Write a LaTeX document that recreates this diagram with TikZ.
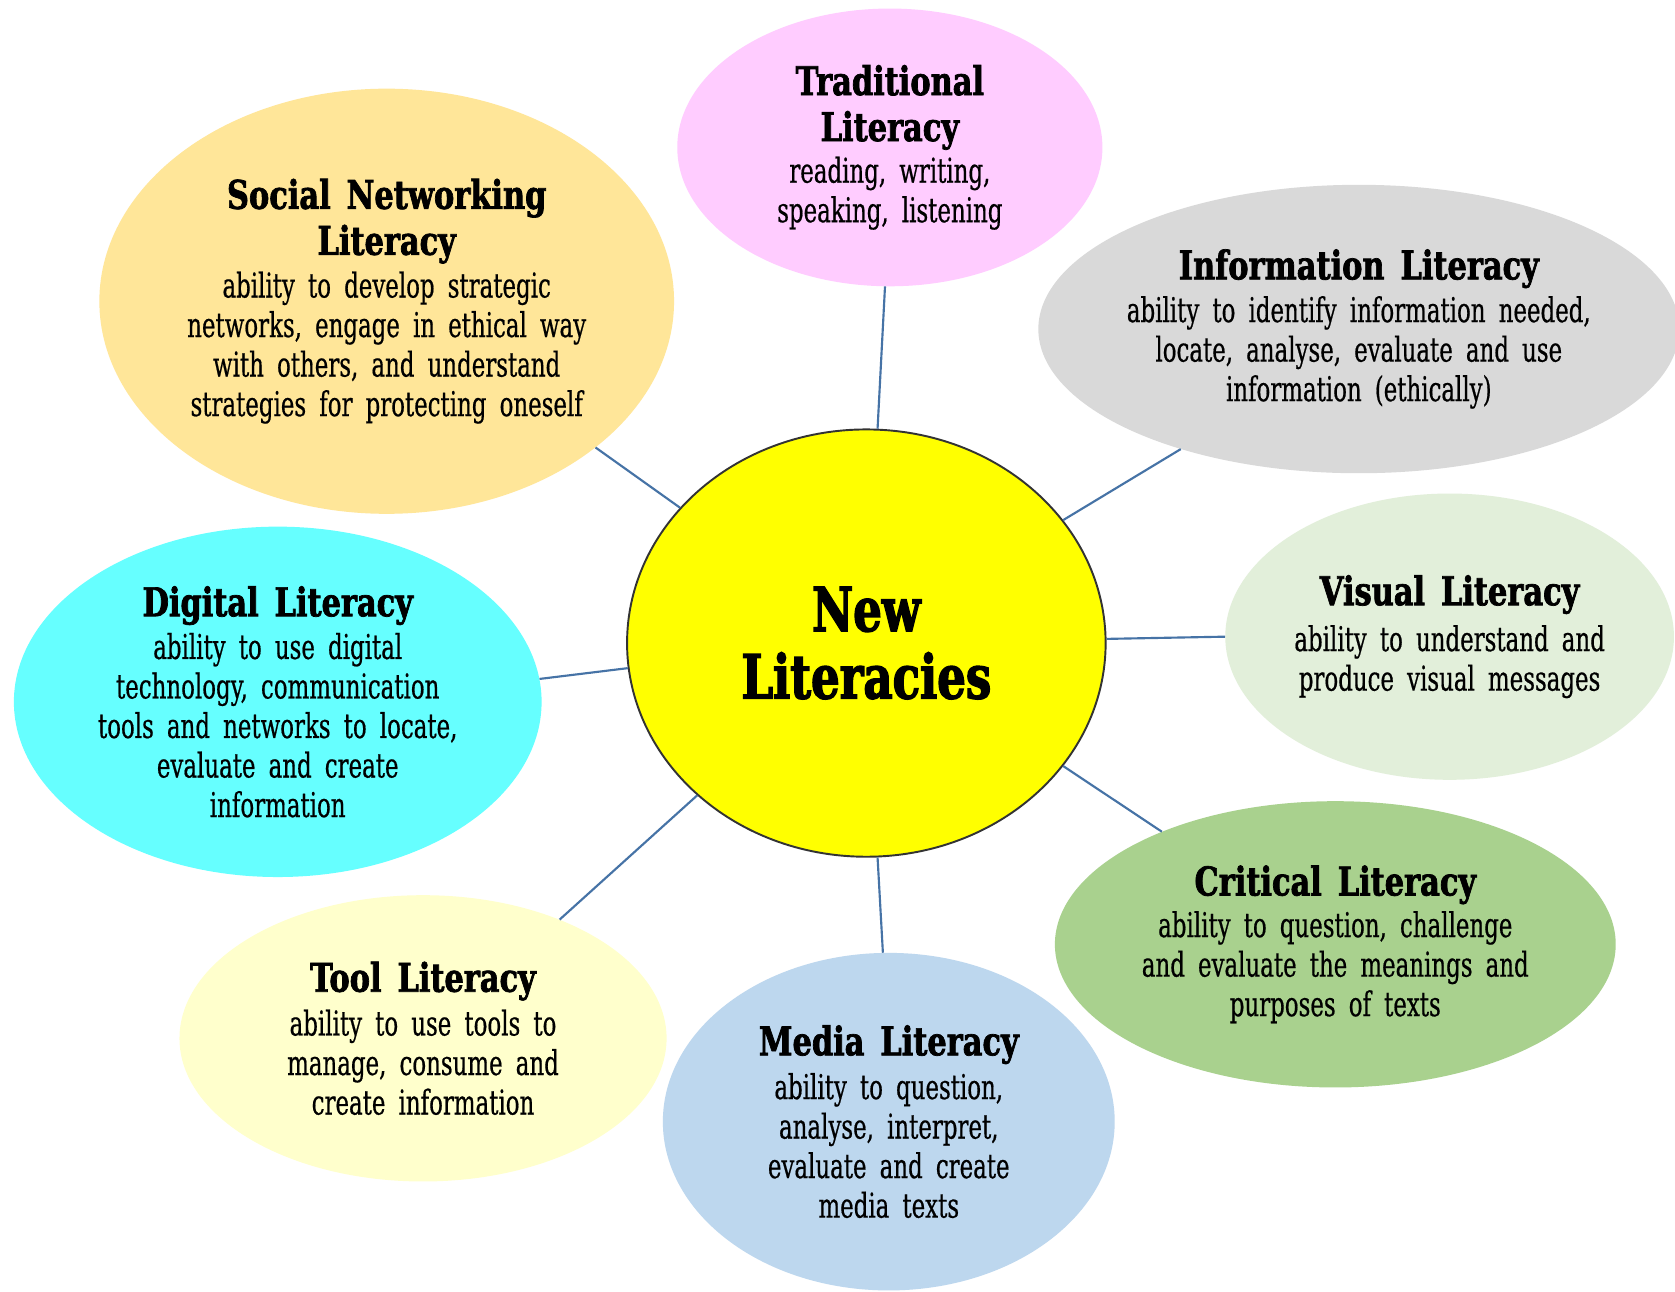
\documentclass[tikz,border=0pt]{standalone}
\usepackage{fontspec}
\usetikzlibrary{shapes.geometric}
\newfontfamily\bodyface[FakeStretch=0.67,WordSpace=1.8,FakeBold=0.5]{DejaVu Serif}
\newfontfamily\headface[FakeStretch=0.77,WordSpace=1.5,BoldFeatures={FakeBold=1.8}]{DejaVu Serif}
\newfontfamily\coreface[FakeStretch=0.74,BoldFeatures={FakeBold=2.2}]{DejaVu Serif}
\newcommand\hd[1]{{\headface\bfseries\fontsize{37}{43}\selectfont #1}}

\definecolor{linkblue}{HTML}{4673A6}
\definecolor{coreyellow}{HTML}{FFFF00}
\definecolor{tradpink}{HTML}{FFCCFF}
\definecolor{infogray}{HTML}{D9D9D9}
\definecolor{visgreen}{HTML}{E2EFDA}
\definecolor{critgreen}{HTML}{A9D18E}
\definecolor{mediablue}{HTML}{BDD7EE}
\definecolor{toolyellow}{HTML}{FFFFCC}
\definecolor{digicyan}{HTML}{66FFFF}
\definecolor{socialgold}{HTML}{FFE699}

\begin{document}
\begin{tikzpicture}[x=1pt,y=-1pt,
  bubble/.style={ellipse, inner sep=0pt, align=center, text=black,
    font=\bodyface\fontsize{32}{37}\selectfont},
  link/.style={draw=linkblue, line width=2pt}]
\clip (0,0) rectangle (1568,1209);
\fill[white] (0,0) rectangle (1568,1209);

% hub
\node[bubble, fill=coreyellow, draw=black!80, line width=1.8pt,
      minimum width=448pt, minimum height=400pt,
      font=\coreface\bfseries\fontsize{57}{63}\selectfont] (core) at (811,602) {New\\Literacies};

% surrounding literacies
\node[bubble, fill=tradpink, minimum width=398pt, minimum height=260pt] (trad) at (833,138)
  {\hd{Traditional}\\[6pt]\hd{Literacy}\\[2pt]reading, writing,\\speaking, listening};
\node[bubble, fill=infogray, inner xsep=-12pt, minimum width=600pt, minimum height=270pt] (info) at (1272,308)
  {\hd{Information Literacy}\\[3pt]ability to identify information needed,\\locate, analyse, evaluate and use\\information (ethically)};
\node[bubble, fill=visgreen, minimum width=420pt, minimum height=268pt] (vis) at (1357,596)
  {\hd{Visual Literacy}\\[6pt]ability to understand and\\produce visual messages};
\node[bubble, fill=critgreen, minimum width=525pt, minimum height=268pt] (crit) at (1250,884)
  {\hd{Critical Literacy}\\[2pt]ability to question, challenge\\and evaluate the meanings and\\purposes of texts};
\node[bubble, fill=mediablue, minimum width=423pt, minimum height=316pt] (media) at (832,1050)
  {\hd{Media Literacy}\\[4pt]ability to question,\\analyse, interpret,\\evaluate and create\\media texts};
\node[bubble, fill=toolyellow, minimum width=456pt, minimum height=268pt] (tool) at (396,972)
  {\hd{Tool Literacy}\\[4pt]ability to use tools to\\manage, consume and\\create information};
\node[bubble, fill=digicyan, minimum width=494pt, minimum height=328pt] (digi) at (260,657)
  {\hd{Digital Literacy}\\[3pt]ability to use digital\\technology, communication\\tools and networks to locate,\\evaluate and create\\information};
\node[bubble, fill=socialgold, minimum width=538pt, minimum height=398pt] (social) at (362,282)
  {\hd{Social Networking}\\[6pt]\hd{Literacy}\\[3pt]ability to develop strategic\\networks, engage in ethical way\\with others, and understand\\strategies for protecting oneself};

% spokes
\draw[link] (trad.-92.6) -- (core.87);
\draw[link] (info.-146.5) -- (core.32);
\draw[link] (vis.180) -- (core.1);
\draw[link] (crit.147) -- (core.-32.5);
\draw[link] (media.92.5) -- (core.-87);
\draw[link] (tool.41.7) -- (core.-138);
\draw[link] (digi.5.7) -- (core.186);
\draw[link] (social.-35.5) -- (core.144);
\end{tikzpicture}
\end{document}
